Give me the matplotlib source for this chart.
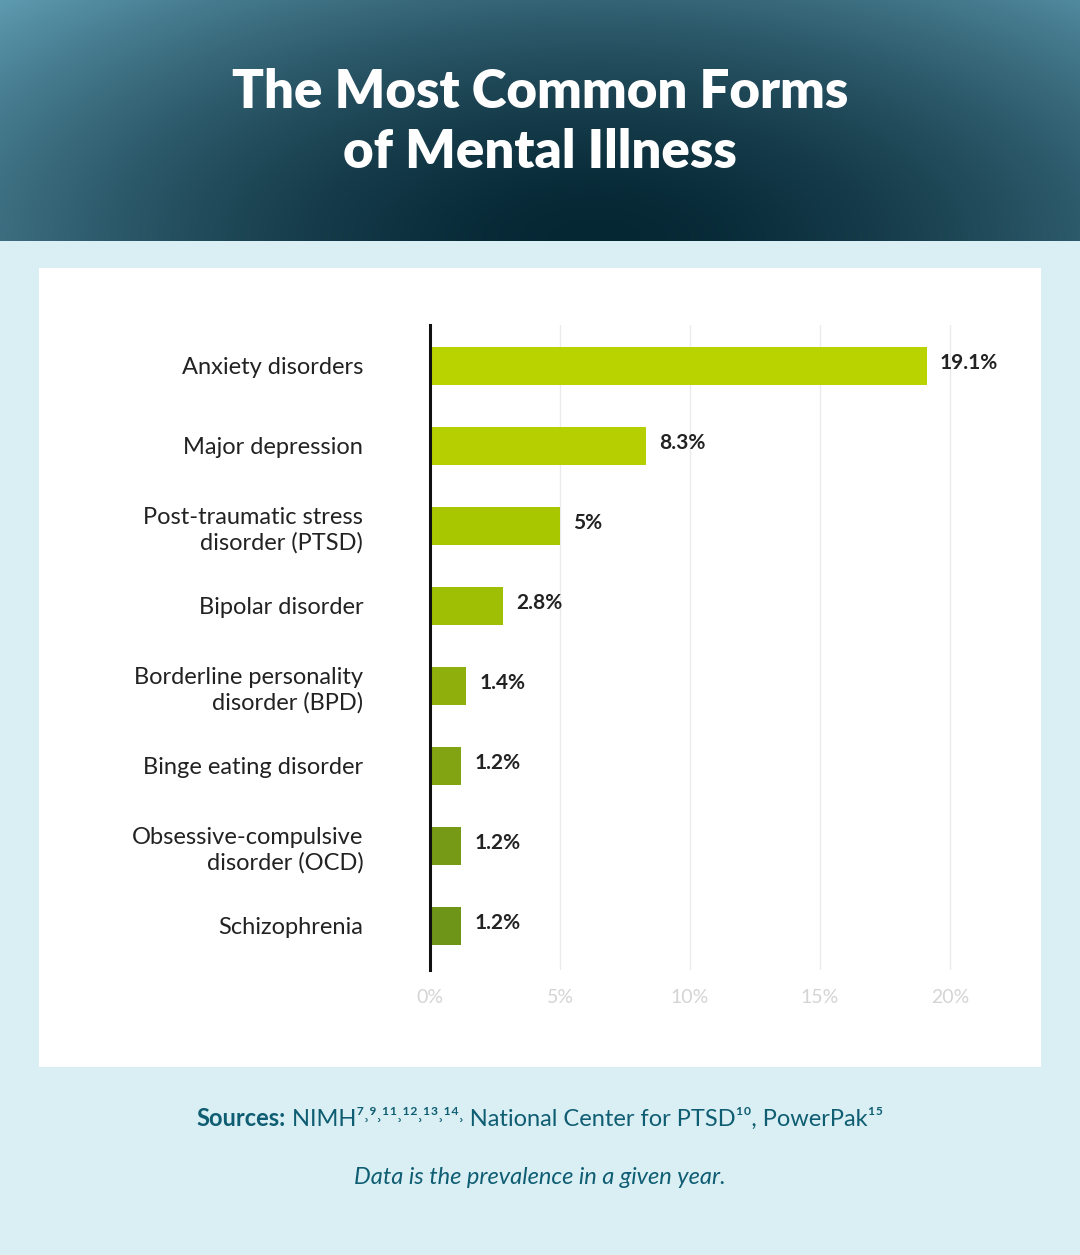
import matplotlib
matplotlib.use("Agg")
import matplotlib.pyplot as plt
import numpy as np

categories = ["Anxiety disorders", "Major depression", "Post-traumatic stress\ndisorder (PTSD)",
              "Bipolar disorder", "Borderline personality\ndisorder (BPD)", "Binge eating disorder",
              "Obsessive-compulsive\ndisorder (OCD)", "Schizophrenia"]
values = [19.1, 8.3, 5, 2.8, 1.4, 1.2, 1.2, 1.2]
labels = ["19.1%", "8.3%", "5%", "2.8%", "1.4%", "1.2%", "1.2%", "1.2%"]
colors = ["#b9d300", "#b5cf00", "#a9c700", "#9fbf04", "#8fb00c", "#82a412", "#769916", "#6e9418"]
xticks = [0, 5, 10, 15, 20]

plt.rcParams['font.family'] = ['Lato', 'DejaVu Sans']
W, H = 1080, 1255
fig = plt.figure(figsize=(W/100, H/100), dpi=100)
fig.patch.set_facecolor("#d9eff3")

# header gradient
hax = fig.add_axes([0, 1-241/H, 1, 241/H])
yy, xx = np.mgrid[0:1:120j, 0:1:540j]
d = np.sqrt(((xx-0.55)/0.75)**2 + ((yy-0.0)/1.5)**2)
d = np.clip(d, 0, 1)**1.6
c0 = np.array([0x05, 0x26, 0x33])/255
c1 = np.array([0x5f, 0x9c, 0xb2])/255
img = c0[None, None, :]*(1-d[..., None]) + c1[None, None, :]*d[..., None]
hax.imshow(img, aspect='auto', extent=[0, 1, 0, 1], origin='lower')
hax.axis('off')
fig.text(0.5, 1-92/H, "The Most Common Forms", color="white", fontsize=38, fontweight='heavy', ha='center', va='center')
fig.text(0.5, 1-152/H, "of Mental Illness", color="white", fontsize=38, fontweight='heavy', ha='center', va='center')

# white panel
pax = fig.add_axes([39/W, 1-1067/H, (1041-39)/W, (1067-268)/H])
pax.set_facecolor('white')
pax.set_xticks([]); pax.set_yticks([])
for s in pax.spines.values():
    s.set_visible(False)

ax = fig.add_axes([430/W, 1-970/H, 560/W, 645/H])
ax.set_facecolor('none')
y = np.arange(len(values))
ax.barh(y, values, height=0.475, color=colors, zorder=3)
ax.set_xlim(0, 560/26)
ax.set_ylim(7.55, -0.51)
for yi, v, l in zip(y, values, labels):
    ax.text(v + 0.5, yi - 0.04, l, va='center', ha='left', fontsize=15, fontweight='bold', color='#222222')
ax.set_yticks(y)
ax.set_yticklabels(categories, fontsize=17, color='#222222', ha='right', linespacing=1.25)
ax.tick_params(axis='y', length=0, pad=48)
ax.set_xticks(xticks)
ax.set_xticklabels([f"{t}%" for t in xticks], fontsize=14, color='#d4d4d4')
ax.tick_params(axis='x', length=0, pad=14)
ax.grid(axis='x', color='#ebebeb', linewidth=1, zorder=0)
for s in ['top', 'right', 'bottom']:
    ax.spines[s].set_visible(False)
ax.spines['left'].set_linewidth(2.2)
ax.spines['left'].set_color('#111111')
ax.spines['left'].set_zorder(4)

# sources line: bold label + regular rest, centered together
rest = " NIMH⁷˒⁹˒¹¹˒¹²˒¹³˒¹⁴˒ National Center for PTSD¹⁰, PowerPak¹⁵"
yS = 1-1119/H
t1 = fig.text(0, yS, "Sources:", color="#0f5d73", fontsize=17, fontweight='bold', ha='left', va='center')
t2 = fig.text(0, yS, rest, color="#0f5d73", fontsize=17, ha='left', va='center')
r = fig.canvas.get_renderer()
w1 = t1.get_window_extent(r).width / W
w2 = t2.get_window_extent(r).width / W
x0 = 0.5 - (w1 + w2) / 2
t1.set_x(x0)
t2.set_x(x0 + w1)
fig.text(0.5, 1-1177/H, "Data is the prevalence in a given year.", color="#0f5d73", fontsize=17,
         style='italic', ha='center', va='center')

fig.savefig("out.png", dpi=100, facecolor=fig.get_facecolor())
